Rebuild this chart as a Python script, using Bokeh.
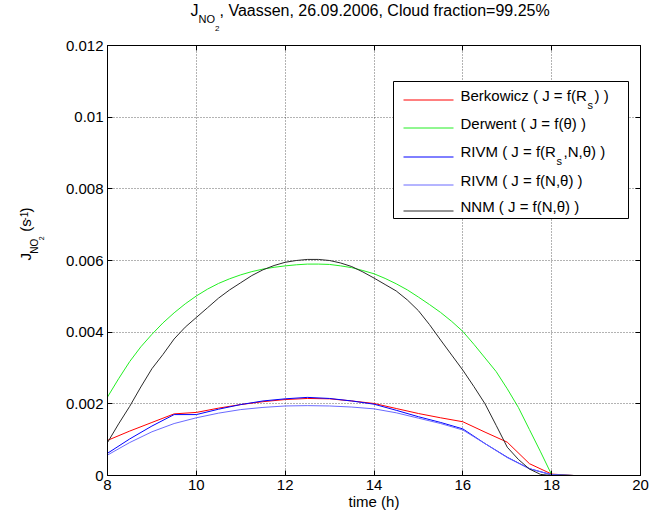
import math
from bokeh.plotting import figure
from bokeh.layouts import column, row
from bokeh.models import Label, FixedTicker, CustomJSTickFormatter, LinearAxis, Range1d
from bokeh.embed import file_html
from bokeh.resources import INLINE

# ---------------- data ----------------
# half-hour readings (Berkowicz and both RIVM curves)
hours_h = [8.0, 8.5, 9.0, 9.5, 10.0, 10.5, 11.0, 11.5, 12.0, 12.5, 13.0, 13.5,
           14.0, 14.5, 15.0, 15.5, 16.0, 16.5, 17.0, 17.5, 18.0, 18.5, 19.0, 19.5, 20.0]
berkowicz = [0.00098, 0.00124, 0.00148, 0.00172, 0.00176, 0.00188, 0.00198, 0.00206,
             0.00212, 0.00215, 0.00214, 0.00208, 0.00201, 0.00187, 0.00173, 0.00161,
             0.00150, 0.00121, 0.00093, 0.00033, 0.00004, 0.0, 0.0, 0.0, 0.0]
rivm_rs = [0.00062, 0.00102, 0.00138, 0.00170, 0.00170, 0.00185, 0.00198, 0.00208,
           0.00214, 0.00218, 0.00215, 0.00208, 0.00199, 0.00182, 0.00164, 0.00148,
           0.00130, 0.00089, 0.00051, 0.00019, 0.00002, 0.0, 0.0, 0.0, 0.0]
rivm_n = [0.00057, 0.00092, 0.00122, 0.00145, 0.00161, 0.00174, 0.00184, 0.00190,
          0.00194, 0.00195, 0.00194, 0.00191, 0.00186, 0.00175, 0.00160, 0.00145,
          0.00127, 0.00089, 0.00050, 0.00019, 0.00002, 0.0, 0.0, 0.0, 0.0]
# quarter-hour readings (Derwent and NNM, which bend more)
hours_q = [8.0, 8.25, 8.5, 8.75, 9.0, 9.25, 9.5, 9.75, 10.0, 10.25, 10.5, 10.75,
           11.0, 11.25, 11.5, 11.75, 12.0, 12.25, 12.5, 12.75, 13.0, 13.25, 13.5, 13.75,
           14.0, 14.25, 14.5, 14.75, 15.0, 15.25, 15.5, 15.75, 16.0, 16.25, 16.5, 16.75,
           17.0, 17.25, 17.5, 17.75, 18.0, 18.5, 19.0, 19.5, 20.0]
derwent = [0.00219, 0.00270, 0.00318, 0.00359, 0.00394, 0.00426, 0.00454, 0.00479,
           0.00501, 0.00520, 0.00536, 0.00549, 0.00560, 0.00569, 0.00576, 0.00581,
           0.00585, 0.00588, 0.00590, 0.00590, 0.00589, 0.00585, 0.00580, 0.00572,
           0.00563, 0.00550, 0.00535, 0.00518, 0.00498, 0.00477, 0.00455, 0.00430,
           0.00402, 0.00366, 0.00328, 0.00290, 0.00242, 0.00190, 0.00128, 0.00066,
           0.00002, 0.0, 0.0, 0.0, 0.0]
nnm = [0.00092, 0.00144, 0.00193, 0.00247, 0.00298, 0.00338, 0.00381, 0.00414,
       0.00441, 0.00468, 0.00495, 0.00518, 0.00538, 0.00558, 0.00574, 0.00586,
       0.00595, 0.00600, 0.00603, 0.00603, 0.00600, 0.00593, 0.00583, 0.00568,
       0.00551, 0.00533, 0.00515, 0.00490, 0.00460, 0.00421, 0.00378, 0.00336,
       0.00294, 0.00248, 0.00200, 0.00140, 0.00079, 0.00045, 0.00018, 0.00003,
       0.0, 0.0, 0.0, 0.0, 0.0]

x_ticks = [8, 10, 12, 14, 16, 18, 20]
y_ticks = [0, 0.002, 0.004, 0.006, 0.008, 0.010, 0.012]

FONT = "Liberation Sans"

# ---------------- page geometry (pixels) ----------------
W = 650
TOP_H = 38          # strip holding the title
LEFT_W = 60         # strip holding the y label
TOTAL_H = 518
FL, FR, FT, FB = 107, 640, 45, 475     # plot frame on the page
MAIN_H = TOTAL_H - TOP_H
X0, X1, Y0, Y1 = 8, 20, 0, 0.012


def px(x):
    return X0 + (x - FL) / (FR - FL) * (X1 - X0)


def py(y):
    return Y0 + (FB - y) / (FB - FT) * (Y1 - Y0)


def strip(width, height):
    f = figure(width=width, height=height, x_range=Range1d(0, width), y_range=Range1d(0, height),
               x_axis_type=None, y_axis_type=None, toolbar_location=None, title=None,
               output_backend="svg", min_border=0)
    f.outline_line_color = None
    f.background_fill_color = "white"
    f.border_fill_color = "white"
    return f


def put(fig, x, y, text, size, angle=0.0, align="left"):
    fig.add_layout(Label(x=x, y=y, text=text, text_font=FONT, text_font_size=size,
                         text_color="black", angle=angle, text_align=align))


# ---------------- main plot ----------------
p = figure(width=W - LEFT_W, height=MAIN_H, x_range=Range1d(X0, X1), y_range=Range1d(Y0, Y1),
           output_backend="svg", toolbar_location=None, title=None,
           min_border_left=FL - LEFT_W, min_border_right=W - FR,
           min_border_top=FT - TOP_H, min_border_bottom=TOTAL_H - FB)
p.background_fill_color = "white"
p.border_fill_color = "white"
p.outline_line_color = "black"
p.outline_line_width = 1

for ax in p.xaxis:
    ax.ticker = FixedTicker(ticks=x_ticks)
    ax.axis_label = "time (h)"
    ax.axis_label_standoff = 0
    ax.axis_label_text_font = FONT
    ax.axis_label_text_font_size = "15px"
    ax.axis_label_text_font_style = "normal"
    ax.axis_label_text_color = "black"
for ax in p.yaxis:
    ax.ticker = FixedTicker(ticks=y_ticks)
    ax.formatter = CustomJSTickFormatter(code="return tick.toFixed(3).replace(/\\.?0+$/, '');")
for ax in p.xaxis + p.yaxis:
    ax.axis_line_color = "black"
    ax.major_tick_line_color = "black"
    ax.major_tick_in = 5
    ax.major_tick_out = 0
    ax.minor_tick_in = 0
    ax.minor_tick_out = 0
    ax.major_label_text_font = FONT
    ax.major_label_text_font_size = "15px"
    ax.major_label_text_color = "black"
    ax.major_label_standoff = 4

empty = CustomJSTickFormatter(code="return '';")
for ticks, side in ((x_ticks, "above"), (y_ticks, "right")):
    p.add_layout(LinearAxis(ticker=FixedTicker(ticks=ticks), formatter=empty, major_tick_in=5,
                            major_tick_out=0, minor_tick_in=0, minor_tick_out=0,
                            major_label_standoff=0, major_label_text_font_size="0px",
                            axis_line_color="black", major_tick_line_color="black"), side)

p.xgrid.ticker = FixedTicker(ticks=x_ticks)
p.ygrid.ticker = FixedTicker(ticks=y_ticks)
p.grid.grid_line_color = "black"
p.grid.grid_line_alpha = 0.6
p.grid.grid_line_dash = "1 2"
p.grid.grid_line_width = 1

colors = ["#ff0000", "#22ee22", "#0000ff", "#6a6aff", "#2a2a2a"]
series = [
    (hours_h, berkowicz),
    (hours_q, derwent),
    (hours_h, rivm_rs),
    (hours_h, rivm_n),
    (hours_q, nnm),
]
for (xs, ys), col in zip(series, colors):
    p.line(xs, ys, line_color=col, line_width=1)

# legend, drawn by hand so that the sub-scripts can be shown
p.quad(left=[px(393)], right=[px(628)], top=[py(81)], bottom=[py(218)],
       fill_color="white", line_color="black", line_width=1)
rows = [99.5, 127.5, 156.5, 184.5, 210.5]
p.multi_line(xs=[[px(403), px(453)] for _ in rows],
             ys=[[py(ry), py(ry)] for ry in rows],
             line_color=colors, line_width=1)

lp = lambda x, y, t, s: put(p, px(x), py(y), t, s)
lp(460, 103.5, "Berkowicz ( J = f(R", "15px")
lp(587, 110, "s", "11px")
lp(594, 103.5, ") )", "15px")
lp(460, 131.5, "Derwent ( J = f(\u03b8) )", "15px")
lp(460, 159.5, "RIVM ( J = f(R", "15px")
lp(556, 166, "s", "11px")
lp(563, 159.5, ",N,\u03b8) )", "15px")
lp(460, 188, "RIVM ( J = f(N,\u03b8) )", "15px")
lp(460, 214, "NNM ( J = f(N,\u03b8) )", "15px")

# ---------------- title strip ----------------
t = strip(W, TOP_H)
tt = lambda x, y, s, f: put(t, x, TOP_H - y, s, f)
tt(190, 18.5, "J", "16px")
tt(198, 24.5, "NO", "11px")
tt(214.5, 30, "2", "8px")
tt(219, 18.5, ", Vaassen, 26.09.2006, Cloud fraction=99.25%", "16px")

# ---------------- y-label strip ----------------
yl = strip(LEFT_W, MAIN_H)
r = math.pi / 2
yy = lambda x, y, s, f: put(yl, x, TOTAL_H - y, s, f, r)
yy(33, 278, "J", "15px")
yy(39.5, 270.5, "NO", "10px")
yy(43.5, 255.5, "2", "7px")
yy(33, 246, "(s", "15px")
yy(27, 233.5, "-1", "10px")
yy(33, 224.5, ")", "15px")

layout = column(t, row(yl, p))
open("out.html", "w").write(file_html(layout, INLINE))
